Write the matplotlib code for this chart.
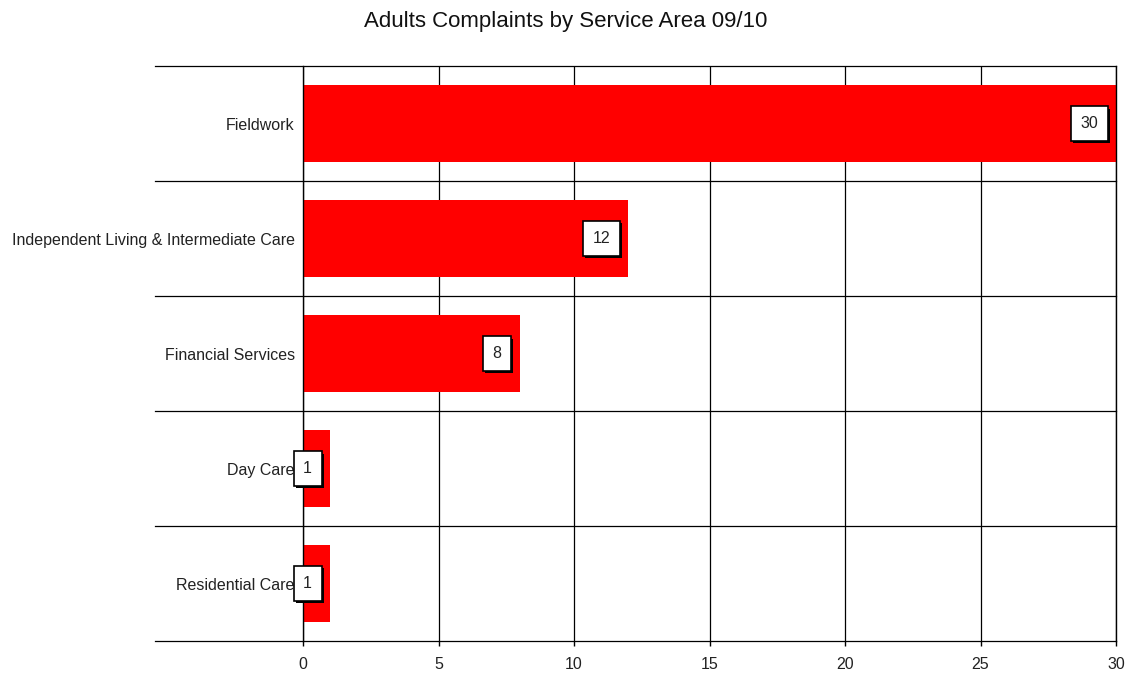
import matplotlib
matplotlib.use("Agg")
import matplotlib.pyplot as plt
import matplotlib.patheffects as pe
from matplotlib.transforms import blended_transform_factory

plt.rcParams['font.family'] = ['Liberation Sans', 'DejaVu Sans']

# Complaints per service area (drawn top to bottom)
categories = ["Fieldwork", "Independent Living & Intermediate Care",
              "Financial Services", "Day Care", "Residential Care"]
complaints = [30, 12, 8, 1, 1]
x_ticks = [0, 5, 10, 15, 20, 25, 30]
title = "Adults Complaints by Service Area 09/10"

W, H = 1133, 673
fig = plt.figure(figsize=(W / 100, H / 100), dpi=100)
left, right, top, bottom = 303, 1116, 66, 641
ax = fig.add_axes([left / W, 1 - bottom / H, (right - left) / W, (bottom - top) / H])

n = len(categories)
ypos = list(range(n))[::-1]
ax.barh(ypos, complaints, height=0.67, color="#ff0000", zorder=2)

fs = 11.5
ax.set_xlim(0, 30)
ax.set_ylim(-0.5, n - 0.5)
ax.set_xticks(x_ticks)
ax.set_xticklabels([str(t) for t in x_ticks], fontsize=fs, color="#222222")
ax.set_yticks(ypos)
ax.set_yticklabels(categories, fontsize=fs, color="#222222")
ax.tick_params(axis="y", length=0, pad=6)
ax.tick_params(axis="x", length=3.6, width=1, direction="out", pad=8, color="black")

for s in ["top", "bottom"]:
    ax.spines[s].set_visible(False)
for s in ["left", "right"]:
    ax.spines[s].set_linewidth(1)
    ax.spines[s].set_zorder(3)

ax.grid(axis="x", color="black", linewidth=0.9, zorder=1)
ax.set_axisbelow(True)

# category separators running out under the labels
tr = blended_transform_factory(ax.transAxes, ax.transData)
ext = -(left - 155) / (right - left)
for b in [i - 0.5 for i in range(n + 1)]:
    ax.plot([ext, 1], [b, b], color="black", linewidth=0.9, transform=tr,
            clip_on=False, zorder=1.5)

# value labels in shadowed boxes near the bar ends
for y, v in zip(ypos, complaints):
    t = ax.annotate(str(v), xy=(v, y), xytext=(-13, 0), textcoords="offset points",
                    ha="right", va="center", fontsize=fs, color="#222222", zorder=5,
                    annotation_clip=False,
                    bbox=dict(boxstyle="square,pad=0.6", fc="white", ec="black", lw=1.2))
    t.get_bbox_patch().set_path_effects([
        pe.SimplePatchShadow(offset=(1.5, -1.5), shadow_rgbFace="black", alpha=1.0),
        pe.Normal()])

fig.text(566 / W, 1 - 22 / H, title, ha="center", va="center", fontsize=16,
         color="#111111")

fig.savefig("out.png", dpi=100, facecolor="white")
